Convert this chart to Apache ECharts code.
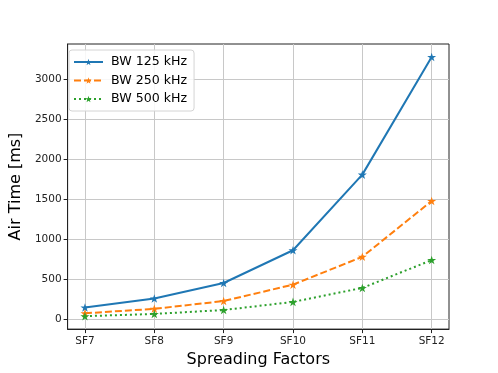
<!DOCTYPE html>
<html>
<head>
<meta charset="utf-8">
<script src="https://cdn.jsdelivr.net/npm/echarts@6/dist/echarts.min.js"></script>
<style>
  html, body { margin: 0; padding: 0; background: #fff; }
  #chart { width: 498px; height: 373px; }
</style>
</head>
<body>
<div id="chart"></div>
<script>
// spreading factors on the x axis
const categories = ["SF7", "SF8", "SF9", "SF10", "SF11", "SF12"];
// air time in ms per bandwidth
const bw125 = [144, 257, 452, 862, 1810, 3285];
const bw250 = [72, 128, 226, 431, 780, 1480];
const bw500 = [36, 64, 113, 215, 390, 739];
const yTicks = [0, 500, 1000, 1500, 2000, 2500, 3000];

const font = "DejaVu Sans";
const star = "path://M0,-10L2.245,-3.09L9.511,-3.09L3.633,1.18L5.878,8.09L0,3.82L-5.878,8.09L-3.633,1.18L-9.511,-3.09L-2.245,-3.09Z";
const xIdx = categories.map((c, i) => i);

function pts(vals) {
  return vals.map((v, i) => [i, v]);
}

function line(name, vals, color, dash) {
  return {
    name: name,
    type: "line",
    data: pts(vals),
    symbol: star,
    symbolSize: 9,
    symbolKeepAspect: true,
    showSymbol: true,
    itemStyle: { color: color },
    lineStyle: { color: color, width: 2, type: dash },
    emphasis: { disabled: true },
    animation: false,
  };
}

let chart = echarts.init(document.getElementById("chart"));
let option = {
  backgroundColor: "#fff",
  textStyle: { fontFamily: font },
  grid: {
    left: 62.5,
    right: 49,
    top: 44,
    bottom: 41.5,
    show: true,
    borderColor: "#222",
    borderWidth: 1,
  },
  legend: {
    left: 69,
    top: 50,
    orient: "vertical",
    itemWidth: 29,
    itemHeight: 8,
    itemGap: 4.5,
    padding: [5, 7, 5, 4],
    borderColor: "#d4d4d4",
    borderWidth: 1,
    borderRadius: 3,
    backgroundColor: "rgba(255,255,255,0.85)",
    textStyle: { fontFamily: font, fontSize: 12.6, color: "#000", lineHeight: 14, padding: [0, 0, 0, 3] },
    data: ["BW 125 kHz", "BW 250 kHz", "BW 500 kHz"],
  },
  xAxis: {
    type: "value",
    min: -0.25,
    max: 5.25,
    name: "Spreading Factors",
    nameLocation: "middle",
    nameGap: 21,
    nameTextStyle: { fontFamily: font, fontSize: 16, color: "#000" },
    axisLine: { show: true, onZero: false, lineStyle: { color: "#222", width: 1 } },
    axisTick: { show: true, customValues: xIdx, length: 4, inside: false, lineStyle: { color: "#222" } },
    axisLabel: {
      customValues: xIdx,
      formatter: (v) => categories[Math.round(v)],
      fontFamily: font,
      fontSize: 10.5,
      color: "#222",
      margin: 7,
    },
    splitLine: { show: true, lineStyle: { color: "#c8c8c8", width: 1 } },
  },
  yAxis: {
    type: "value",
    min: -126,
    max: 3447,
    name: "Air Time [ms]",
    nameLocation: "middle",
    nameGap: 40,
    nameTextStyle: { fontFamily: font, fontSize: 16, color: "#000" },
    axisLine: { show: true, onZero: false, lineStyle: { color: "#222", width: 1 } },
    axisTick: { show: true, customValues: yTicks, length: 4, lineStyle: { color: "#222" } },
    axisLabel: {
      customValues: yTicks,
      formatter: (v) => String(v),
      fontFamily: font,
      fontSize: 10.5,
      color: "#222",
      margin: 6,
    },
    splitLine: { show: true, lineStyle: { color: "#c8c8c8", width: 1 } },
  },
  series: [
    line("BW 125 kHz", bw125, "#1f77b4", "solid"),
    line("BW 250 kHz", bw250, "#ff7f0e", [7, 3]),
    line("BW 500 kHz", bw500, "#2ca02c", [2, 3]),
  ],
};
chart.setOption(option);
</script>
</body>
</html>
